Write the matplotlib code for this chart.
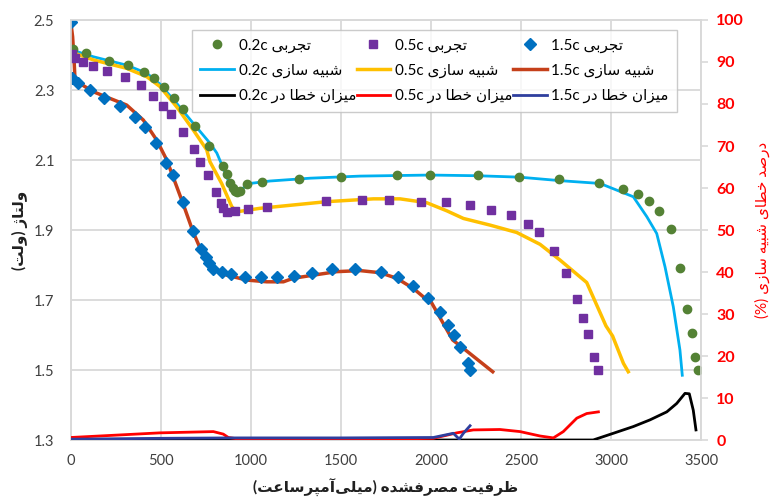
import matplotlib
matplotlib.use("Agg")
import matplotlib.pyplot as plt

plt.rcParams['font.family'] = ['Lato', 'DejaVu Sans']

# ---------------- minimal Persian shaping (presentation forms, visual order) -------------
_F = {
    'ا': ('\uFE8D', '\uFE8E', None, None),
    'آ': ('\uFE81', '\uFE82', None, None),
    'ب': ('\uFE8F', '\uFE90', '\uFE91', '\uFE92'),
    'پ': ('\uFB56', '\uFB57', '\uFB58', '\uFB59'),
    'ت': ('\uFE95', '\uFE96', '\uFE97', '\uFE98'),
    'ج': ('\uFE9D', '\uFE9E', '\uFE9F', '\uFEA0'),
    'خ': ('\uFEA5', '\uFEA6', '\uFEA7', '\uFEA8'),
    'د': ('\uFEA9', '\uFEAA', None, None),
    'ر': ('\uFEAD', '\uFEAE', None, None),
    'ز': ('\uFEAF', '\uFEB0', None, None),
    'ژ': ('\uFB8A', '\uFB8B', None, None),
    'س': ('\uFEB1', '\uFEB2', '\uFEB3', '\uFEB4'),
    'ش': ('\uFEB5', '\uFEB6', '\uFEB7', '\uFEB8'),
    'ص': ('\uFEB9', '\uFEBA', '\uFEBB', '\uFEBC'),
    'ط': ('\uFEC1', '\uFEC2', '\uFEC3', '\uFEC4'),
    'ظ': ('\uFEC5', '\uFEC6', '\uFEC7', '\uFEC8'),
    'ع': ('\uFEC9', '\uFECA', '\uFECB', '\uFECC'),
    'ف': ('\uFED1', '\uFED2', '\uFED3', '\uFED4'),
    'ل': ('\uFEDD', '\uFEDE', '\uFEDF', '\uFEE0'),
    'م': ('\uFEE1', '\uFEE2', '\uFEE3', '\uFEE4'),
    'ن': ('\uFEE5', '\uFEE6', '\uFEE7', '\uFEE8'),
    'ه': ('\uFEE9', '\uFEEA', '\uFEEB', '\uFEEC'),
    'و': ('\uFEED', '\uFEEE', None, None),
    'ی': ('\uFEEF', '\uFEF0', '\uFEF3', '\uFEF4'),
    'ي': ('\uFEEF', '\uFEF0', '\uFEF3', '\uFEF4'),
}
_MIRROR = {'(': ')', ')': '('}


def fa(s):
    out = []
    n = len(s)
    for i, ch in enumerate(s):
        if ch == '\u200c':
            continue
        if ch not in _F:
            out.append(_MIRROR.get(ch, ch))
            continue
        iso, fin, ini, med = _F[ch]
        prev = s[i - 1] if i > 0 else None
        nxt = s[i + 1] if i + 1 < n else None
        jp = prev is not None and prev in _F and _F[prev][2] is not None
        jn = ini is not None and nxt is not None and nxt in _F
        if jp and jn:
            out.append(med)
        elif jp:
            out.append(fin)
        elif jn:
            out.append(ini)
        else:
            out.append(iso)
    return ''.join(reversed(out))


# ---------------- data ----------------
exp02_x = [13, 83, 213, 315, 406, 463, 518, 574, 624, 689, 768, 847, 865, 883, 898, 911, 924, 939,
           976, 1060, 1268, 1502, 1810, 1995, 2260, 2491, 2711, 2935, 3065, 3152, 3213, 3269, 3332,
           3384, 3423, 3449, 3467, 3482]
exp02_v = [2.416, 2.405, 2.383, 2.371, 2.351, 2.334, 2.309, 2.277, 2.245, 2.196, 2.141, 2.083, 2.059,
           2.035, 2.021, 2.011, 2.008, 2.012, 2.031, 2.036, 2.047, 2.052, 2.057, 2.057, 2.057, 2.052,
           2.046, 2.034, 2.018, 2.003, 1.984, 1.955, 1.903, 1.791, 1.675, 1.605, 1.536, 1.500]

sim02_x = [0, 124, 309, 421, 494, 587, 679, 772, 810, 839, 865, 893, 911, 939, 995, 1106, 1328, 1606,
           1995, 2260, 2491, 2717, 2939, 3124, 3199, 3254, 3300, 3346, 3383, 3396]
sim02_v = [2.415, 2.395, 2.371, 2.348, 2.317, 2.262, 2.205, 2.148, 2.12, 2.085, 2.052, 2.019, 2.005,
           2.014, 2.033, 2.040, 2.048, 2.054, 2.057, 2.055, 2.051, 2.041, 2.033, 1.995, 1.938, 1.890,
           1.795, 1.681, 1.557, 1.485]

exp05_x = [4, 22, 65, 124, 202, 300, 389, 458, 513, 554, 621, 684, 717, 763, 804, 832, 846, 865, 911,
           985, 1087, 1415, 1615, 1767, 1943, 2082, 2217, 2332, 2443, 2541, 2602, 2682, 2749, 2811,
           2846, 2872, 2907, 2929]
exp05_v = [2.403, 2.392, 2.381, 2.369, 2.355, 2.336, 2.313, 2.284, 2.255, 2.231, 2.179, 2.131, 2.095,
           2.057, 2.009, 1.976, 1.962, 1.952, 1.955, 1.960, 1.967, 1.983, 1.986, 1.986, 1.981, 1.979,
           1.971, 1.957, 1.942, 1.916, 1.893, 1.840, 1.778, 1.702, 1.649, 1.602, 1.537, 1.500]

sim05_x = [0, 124, 309, 421, 494, 587, 679, 754, 772, 837, 893, 921, 1050, 1421, 1680, 1828, 1976, 2087,
           2180, 2328, 2476, 2606, 2717, 2865, 2972, 3009, 3069, 3096]
sim05_v = [2.409, 2.386, 2.362, 2.338, 2.310, 2.252, 2.186, 2.129, 2.095, 2.033, 1.967, 1.952, 1.962,
           1.981, 1.989, 1.989, 1.978, 1.955, 1.933, 1.914, 1.893, 1.859, 1.814, 1.750, 1.626, 1.597,
           1.519, 1.495]

exp15_x = [0, 4, 41, 106, 183, 272, 356, 411, 472, 525, 565, 621, 676, 721, 750, 767, 791, 837, 887,
           967, 1054, 1143, 1241, 1337, 1448, 1578, 1722, 1818, 1899, 1981, 2050, 2096, 2128, 2161,
           2207, 2217]
exp15_v = [2.495, 2.333, 2.321, 2.300, 2.278, 2.255, 2.224, 2.195, 2.148, 2.092, 2.057, 1.981, 1.898,
           1.845, 1.822, 1.805, 1.790, 1.781, 1.774, 1.767, 1.765, 1.765, 1.769, 1.776, 1.788, 1.790,
           1.780, 1.765, 1.741, 1.705, 1.666, 1.629, 1.600, 1.567, 1.521, 1.500]

sim15_x = [0, 9, 17, 22, 32, 124, 309, 402, 476, 532, 567, 622, 678, 733, 791, 865, 976, 1087, 1180,
           1234, 1346, 1476, 1606, 1717, 1810, 1902, 1967, 2000, 2120, 2204, 2343]
sim15_v = [2.49, 2.452, 2.386, 2.333, 2.324, 2.295, 2.257, 2.214, 2.157, 2.100, 2.052, 1.976, 1.895,
           1.829, 1.790, 1.771, 1.757, 1.752, 1.752, 1.762, 1.771, 1.781, 1.784, 1.778, 1.762, 1.733,
           1.705, 1.695, 1.586, 1.552, 1.495]

err02_x = [0, 1000, 2000, 2700, 2901, 3013, 3124, 3217, 3310, 3365, 3411, 3435, 3457, 3472]
err02_v = [0.0, 0.0, 0.0, 0.0, 0.0, 1.6, 3.2, 4.8, 6.7, 8.7, 11.1, 11.0, 7.1, 2.4]

err05_x = [0, 494, 791, 846, 874, 950, 1500, 2013, 2143, 2235, 2383, 2495, 2606, 2680, 2735, 2810,
           2865, 2930]
err05_v = [0.6, 1.7, 2.0, 1.4, 0.6, 0.1, 0.0, 0.4, 1.7, 2.4, 2.5, 2.0, 0.95, 0.5, 2.0, 5.2, 6.3, 6.7]

err15_x = [0, 500, 900, 1500, 2013, 2124, 2157, 2180, 2217]
err15_v = [0.2, 0.4, 0.5, 0.5, 0.6, 1.6, 0.2, 1.6, 3.4]

rates = ['0.2c', '0.5c', '1.5c']
x_ticks = [0, 500, 1000, 1500, 2000, 2500, 3000, 3500]
y_ticks = [1.3, 1.5, 1.7, 1.9, 2.1, 2.3, 2.5]
y2_ticks = [0, 10, 20, 30, 40, 50, 60, 70, 80, 90, 100]

# ---------------- figure ----------------
fig = plt.figure(figsize=(7.72, 4.98), dpi=100)
ax = fig.add_axes([71 / 772, 1 - 440 / 498, 630 / 772, 420 / 498])
ax2 = ax.twinx()

GRID = '#D9D9D9'
ax.set_xlim(0, 3500)
ax.set_ylim(1.3, 2.5)
ax2.set_ylim(0, 100)
ax.set_xticks(x_ticks)
ax.set_yticks(y_ticks)
ax2.set_yticks(y2_ticks)
ax.grid(True, which='major', color=GRID, lw=1.3)
ax.set_axisbelow(True)

for a in (ax, ax2):
    for sp in a.spines.values():
        sp.set_color(GRID)
        sp.set_linewidth(1.2)

ax.tick_params(axis='both', which='both', length=0, labelsize=10.5, labelcolor='#404040')
ax.tick_params(axis='x', pad=10)
ax.tick_params(axis='y', pad=12)
ax2.tick_params(axis='y', length=5, color=GRID, width=1.2, labelsize=11.5, labelcolor='#FF0000', pad=6)
for t in ax2.get_yticklabels():
    t.set_fontweight('bold')

c_g, c_p, c_b = '#548235', '#7030A0', '#0070C0'
c_cy, c_ye, c_rb = '#00B0F0', '#FFC000', '#C5401A'
c_k, c_r, c_n = '#000000', '#FF0000', '#2F3F9E'

l_s02, = ax.plot(sim02_x, sim02_v, color=c_cy, lw=2.0, zorder=3)
l_s05, = ax.plot(sim05_x, sim05_v, color=c_ye, lw=2.5, zorder=3)
l_s15, = ax.plot(sim15_x, sim15_v, color=c_rb, lw=2.5, zorder=3)
m_e02, = ax.plot(exp02_x, exp02_v, ls='none', marker='o', ms=6, color=c_g, zorder=4)
m_e05, = ax.plot(exp05_x, exp05_v, ls='none', marker='s', ms=6.3, color=c_p, zorder=4)
m_e15, = ax.plot(exp15_x, exp15_v, ls='none', marker='D', ms=6.5, color=c_b, zorder=4)

l_r02, = ax2.plot(err02_x, err02_v, color=c_k, lw=2.0, zorder=3)
l_r05, = ax2.plot(err05_x, err05_v, color=c_r, lw=2.0, zorder=3)
l_r15, = ax2.plot(err15_x, err15_v, color=c_n, lw=2.0, zorder=3)

w_exp = fa('تجربی')
w_sim = fa('شبیه سازی')
w_err = fa('میزان خطا در')

handles = [m_e02, l_s02, l_r02, m_e05, l_s05, l_r05, m_e15, l_s15, l_r15]
labels = []
for r in rates:
    labels += [f'{r} {w_exp}', f'{r} {w_sim}', f'{r} {w_err}']

leg = ax2.legend(handles, labels, ncol=3, loc='upper left',
                 bbox_to_anchor=(0.192, 0.779, 0.77, 0.197), mode='expand', borderaxespad=0,
                 frameon=True, fancybox=False, edgecolor='#BFBFBF', fontsize=11,
                 handlelength=2.2, handletextpad=0.3, labelspacing=0.72, columnspacing=0.4,
                 borderpad=0.55)
leg.get_frame().set_linewidth(1.0)
leg.set_zorder(10)

ax.set_xlabel(fa('ظرفیت مصرفشده (میلی\u200cآمپرساعت)'), fontsize=11, fontweight='bold',
              color='#202020', labelpad=8)
ax.set_ylabel(fa('ولتاژ (ولت)'), fontsize=11, fontweight='bold', color='#202020', labelpad=4)
ax2.set_ylabel(fa('درصد خطای شبیه سازی (%)'), fontsize=11, color='#FF0000', rotation=90, labelpad=8)

fig.savefig('out.png', dpi=100)
